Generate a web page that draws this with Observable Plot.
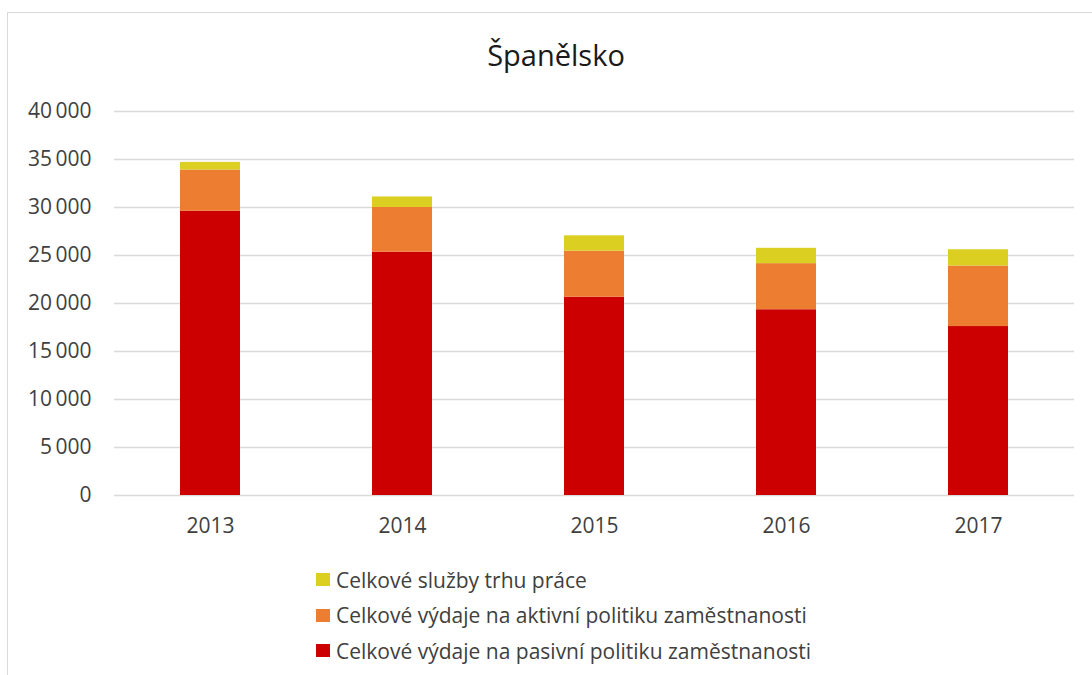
<!DOCTYPE html>
<html>
<head>
<meta charset="utf-8">
<script src="https://cdn.jsdelivr.net/npm/d3@7"></script>
<script src="https://cdn.jsdelivr.net/npm/@observablehq/plot@0.6"></script>
<style>
  body { margin: 0; background: #fff; }
  #wrap { position: relative; width: 1092px; height: 675px; overflow: hidden; font-family: "Open Sans", Lato, sans-serif; }
  #frame { position: absolute; left: 7px; top: 12px; width: 1200px; height: 800px; border: 1.5px solid #d9d9d9; box-sizing: border-box; }
  #title { position: absolute; left: 0; width: 1112px; top: 35px; text-align: center; font-size: 29px; color: #1a1a1a; }
  #chart { position: absolute; left: 0; top: 0; }
  #legend { position: absolute; left: 316px; top: 562px; font-size: 21px; color: #404040; }
  .row { display: flex; align-items: center; height: 35.5px; }
  .sw { width: 14px; height: 13px; margin-right: 6px; }
</style>
</head>
<body>
<div id="wrap">
  <div id="frame"></div>
  <div id="chart"></div>
  <div id="title">Španělsko</div>
  <div id="legend"></div>
</div>
<script>
const years = ["2013", "2014", "2015", "2016", "2017"];
const series = [
  "Celkové výdaje na pasivní politiku zaměstnanosti",
  "Celkové výdaje na aktivní politiku zaměstnanosti",
  "Celkové služby trhu práce"
];
const colors = ["#cc0000", "#ed7d31", "#dbcf22"];
const passive = [29600, 25350, 20650, 19350, 17600];
const active = [4300, 4650, 4800, 4800, 6300];
const services = [800, 1100, 1600, 1600, 1700];
const yTicks = [0, 5000, 10000, 15000, 20000, 25000, 30000, 35000, 40000];

const values = [passive, active, services];
const data = [];
years.forEach((yr, i) => {
  series.forEach((s, j) => data.push({year: yr, series: s, value: values[j][i]}));
});

const fmt = v => d3.format(",")(v).replace(/,/g, "\u2009");

const plot = Plot.plot({
  width: 1092,
  height: 540,
  marginLeft: 114,
  marginRight: 18,
  marginTop: 111,
  marginBottom: 45,
  style: {fontFamily: "'Open Sans', Lato, sans-serif", fontSize: "21px", color: "#404040", background: "transparent"},
  x: {domain: years, paddingInner: 0.6875, paddingOuter: 0.34375, label: null, tickSize: 0, tickPadding: 23},
  y: {domain: [0, 40000], ticks: yTicks, label: null, tickSize: 0, tickPadding: 23, tickFormat: fmt},
  color: {domain: series, range: colors},
  marks: [
    Plot.gridY(yTicks, {stroke: "#d9d9d9", strokeOpacity: 1, strokeWidth: 1.4}),
    Plot.barY(data, {x: "year", y: "value", fill: "series", order: series}),
  ]
});
document.getElementById("chart").appendChild(plot);

const legend = document.getElementById("legend");
[2, 1, 0].forEach(j => {
  const row = document.createElement("div");
  row.className = "row";
  const sw = document.createElement("div");
  sw.className = "sw";
  sw.style.background = colors[j];
  const t = document.createElement("span");
  t.textContent = series[j];
  row.appendChild(sw);
  row.appendChild(t);
  legend.appendChild(row);
});
</script>
</body>
</html>
